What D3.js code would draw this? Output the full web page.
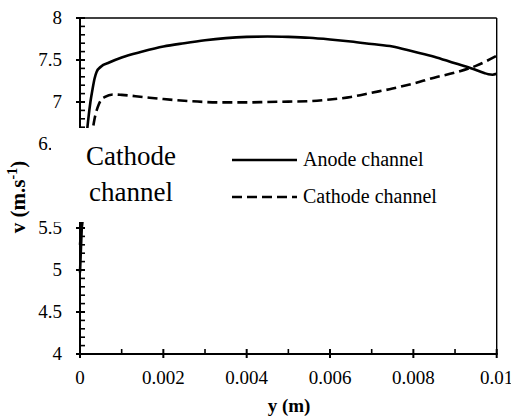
<!DOCTYPE html>
<html>
<head>
<meta charset="utf-8">
<script src="https://cdn.jsdelivr.net/npm/d3@7"></script>
</head>
<body style="margin:0">
<svg id="chart" width="511" height="416" style="display:block"></svg>
<script>
// Position across the channel (m)
const anodeY = [0, 0.00003, 0.00006, 0.0001, 0.00015, 0.0002, 0.00025, 0.0003, 0.00035, 0.0004, 0.0005, 0.0007,
  0.001, 0.0015, 0.002, 0.0025, 0.003, 0.0035, 0.004, 0.0045, 0.005, 0.0055, 0.006, 0.0065, 0.007, 0.0075,
  0.008, 0.0085, 0.009, 0.0094, 0.0097, 0.0098, 0.0099, 0.01];
// Anode channel velocity (m/s)
const anodeV = [4.97, 5.35, 5.7, 6.15, 6.55, 6.8, 7.0, 7.15, 7.28, 7.36, 7.42, 7.47,
  7.53, 7.6, 7.66, 7.7, 7.735, 7.76, 7.775, 7.78, 7.775, 7.765, 7.745, 7.72, 7.69, 7.66,
  7.6, 7.54, 7.46, 7.4, 7.345, 7.33, 7.325, 7.335];

const cathodeY = [0, 0.00002, 0.00005, 0.0001, 0.00015, 0.0002, 0.00025, 0.0003, 0.00035, 0.0004, 0.00045, 0.0005,
  0.0006, 0.0008, 0.001, 0.0015, 0.002, 0.0025, 0.003, 0.0035, 0.004, 0.0045, 0.005, 0.0055, 0.006, 0.0065,
  0.007, 0.0075, 0.008, 0.0085, 0.009, 0.0095, 0.01];
// Cathode channel velocity (m/s)
const cathodeV = [5.3, 5.42, 5.55, 5.75, 5.95, 6.2, 6.45, 6.65, 6.8, 6.9, 6.97, 7.02,
  7.06, 7.09, 7.085, 7.06, 7.035, 7.015, 7.0, 6.995, 6.995, 7.0, 7.005, 7.01, 7.03, 7.06,
  7.11, 7.16, 7.22, 7.29, 7.35, 7.43, 7.55];

const xTicks = [0, 0.002, 0.004, 0.006, 0.008, 0.01];
const xMinor = [0.001, 0.003, 0.005, 0.007, 0.009];
const yTicks = [4, 4.5, 5, 5.5, 6, 6.5, 7, 7.5, 8];
const yMinor = d3.range(41).map(i => +(4 + i * 0.1).toFixed(1)).filter(v => !yTicks.includes(v));

const FONT = "Times New Roman";
const svg = d3.select("#chart");
const L = 80, R = 496.7, T = 18, B = 354;

const x = d3.scaleLinear().domain([0, 0.01]).range([L, R]);
const y = d3.scaleLinear().domain([4, 8]).range([B, T]);

const line = d3.line().x(d => x(d[0])).y(d => y(d[1])).curve(d3.curveMonotoneX);

// text helper: serif face like the rest of the figure
function label(sel, size, weight) {
  return sel.style("font-family", `"${FONT}"`).style("font-size", size + "px")
    .style("font-weight", weight || "normal").attr("fill", "#000");
}

// plot frame: top and right borders
svg.append("line").attr("x1", L).attr("x2", R).attr("y1", T).attr("y2", T)
  .attr("stroke", "#000").attr("stroke-width", 1.6);
svg.append("line").attr("x1", R).attr("x2", R).attr("y1", T).attr("y2", B)
  .attr("stroke", "#000").attr("stroke-width", 1.4);

// curves
svg.append("path").datum(d3.zip(anodeY, anodeV)).attr("d", line)
  .attr("fill", "none").attr("stroke", "#000").attr("stroke-width", 2.6);
svg.append("path").datum(d3.zip(cathodeY, cathodeV)).attr("d", line)
  .attr("fill", "none").attr("stroke", "#000").attr("stroke-width", 2.6)
  .attr("stroke-dasharray", "10,5");

// y axis tick labels
svg.append("g").selectAll("text").data(yTicks).join("text")
  .attr("x", 62).attr("y", d => y(d)).attr("dy", "0.34em").attr("text-anchor", "end")
  .call(label, 19).text(d => String(d));
svg.append("line").attr("x1", L).attr("x2", L).attr("y1", T - 1).attr("y2", B + 1)
  .attr("stroke", "#000").attr("stroke-width", 2);
svg.append("g").selectAll("line").data(yTicks).join("line")
  .attr("x1", L - 4).attr("x2", L + 5).attr("y1", d => y(d)).attr("y2", d => y(d))
  .attr("stroke", "#000").attr("stroke-width", 2);
svg.append("g").selectAll("line").data(yMinor).join("line")
  .attr("x1", L).attr("x2", L + 5).attr("y1", d => y(d)).attr("y2", d => y(d))
  .attr("stroke", "#000").attr("stroke-width", 1.6);

// x axis tick labels
svg.append("g").selectAll("text").data(xTicks).join("text")
  .attr("x", d => x(d)).attr("y", 384).attr("text-anchor", "middle")
  .call(label, 19).text(d => String(d));
svg.append("line").attr("x1", L - 1).attr("x2", R + 1).attr("y1", B).attr("y2", B)
  .attr("stroke", "#000").attr("stroke-width", 2);
svg.append("g").selectAll("line").data(xTicks).join("line")
  .attr("x1", d => x(d)).attr("x2", d => x(d)).attr("y1", B - 5).attr("y2", B + 4)
  .attr("stroke", "#000").attr("stroke-width", 2);
svg.append("g").selectAll("line").data(xMinor).join("line")
  .attr("x1", d => x(d)).attr("x2", d => x(d)).attr("y1", B - 5).attr("y2", B)
  .attr("stroke", "#000").attr("stroke-width", 1.6);

// axis titles
svg.append("text").attr("x", 289).attr("y", 412).attr("text-anchor", "middle")
  .call(label, 19, "bold").text("y (m)");
const yt = svg.append("text").attr("transform", "translate(25,197) rotate(-90)")
  .attr("text-anchor", "middle").call(label, 21, "bold");
yt.append("tspan").text("v (m.s");
yt.append("tspan").style("font-size", "14px").attr("dy", -8).text("-1");
yt.append("tspan").attr("dy", 8).text(")");

// legend panel
svg.append("rect").attr("x", 51).attr("y", 128).attr("width", 427).attr("height", 94).attr("fill", "#fff");
const big = svg.append("text").attr("text-anchor", "middle").call(label, 27);
big.append("tspan").attr("x", 131).attr("y", 165).text("Cathode");
big.append("tspan").attr("x", 131).attr("y", 201).text("channel");

const legendItems = [
  { label: "Anode channel", dash: null, yPos: 160 },
  { label: "Cathode channel", dash: "10,5", yPos: 197 }
];
const lg = svg.append("g").selectAll("g").data(legendItems).join("g");
lg.append("line").attr("x1", 232).attr("x2", 297).attr("y1", d => d.yPos).attr("y2", d => d.yPos)
  .attr("stroke", "#000").attr("stroke-width", 2.6).attr("stroke-dasharray", d => d.dash);
lg.append("text").attr("x", 303).attr("y", d => d.yPos + 6).call(label, 20).text(d => d.label);
</script>
</body>
</html>
